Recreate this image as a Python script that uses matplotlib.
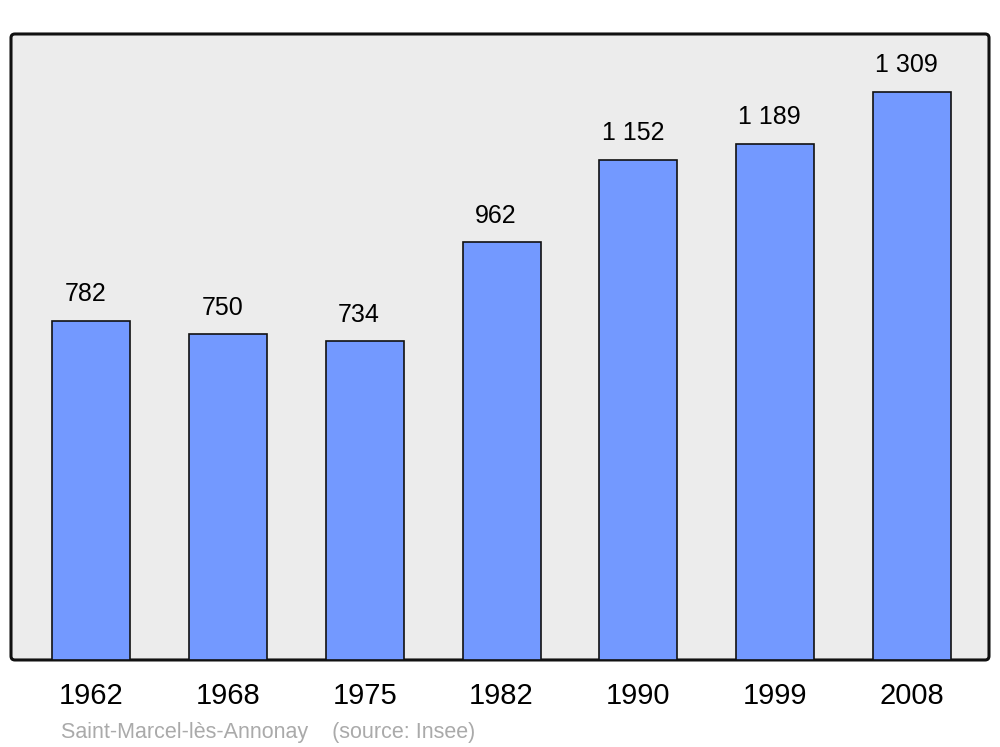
import numpy as np
import matplotlib.pyplot as plt
from matplotlib.patches import FancyBboxPatch

plt.rcParams['font.family'] = ['Liberation Sans', 'DejaVu Sans']

# data
years = ['1962', '1968', '1975', '1982', '1990', '1999', '2008']
population = [782, 750, 734, 962, 1152, 1189, 1309]
labels = ['782', '750', '734', '962', '1 152', '1 189', '1 309']

fig = plt.figure(figsize=(10, 7.47), dpi=100)
ax = fig.add_axes([0.011, 0.1165, 0.978, 0.838])
ax.patch.set_visible(False)

# rounded grey frame behind the bars
frame = FancyBboxPatch((0, 0), 1, 1,
                       boxstyle='round,pad=0,rounding_size=0.004',
                       mutation_aspect=1.56,
                       transform=ax.transAxes, facecolor='#ececec',
                       edgecolor='#111111', linewidth=2.2, zorder=0,
                       clip_on=False)
ax.add_patch(frame)

x = np.arange(len(years))
bars = ax.bar(x, population, width=0.57, color='#7399ff',
              edgecolor='#111111', linewidth=1.2, zorder=2)

for xi, v, lab in zip(x, population, labels):
    ax.annotate(lab, (xi, v), xytext=(-4, 14), textcoords='offset points',
                ha='center', va='baseline', fontsize=18)

ax.set_xlim(-0.584, 6.562)
ax.set_ylim(0, 1442)
ax.set_xticks(x)
ax.set_xticklabels(years, fontsize=21)
ax.set_yticks([])
ax.tick_params(axis='x', length=0, pad=16)
for s in ax.spines.values():
    s.set_visible(False)

fig.text(0.061, 0.012, 'Saint-Marcel-lès-Annonay    (source: Insee)',
         fontsize=15.5, color='#aaaaaa', ha='left', va='baseline')

plt.savefig('out.png', dpi=100)
